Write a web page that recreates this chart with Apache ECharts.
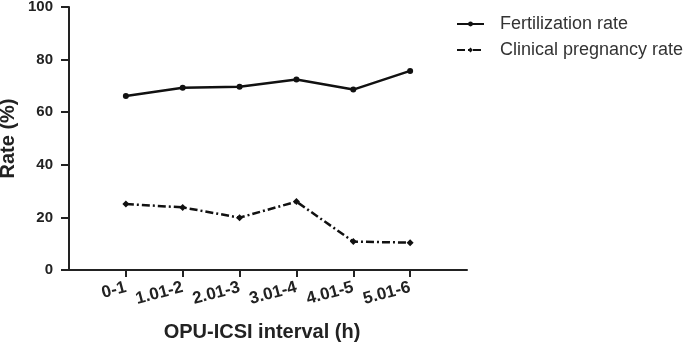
<!DOCTYPE html>
<html>
<head>
<meta charset="utf-8">
<style>
  html, body { margin: 0; padding: 0; background: #fff; }
  #chart { width: 685px; height: 345px; }
</style>
<script src="https://cdn.jsdelivr.net/npm/echarts@6/dist/echarts.min.js"></script>
</head>
<body>
<div id="chart"></div>
<script>
// OPU-ICSI interval groups
var categories = ['0-1', '1.01-2', '2.01-3', '3.01-4', '4.01-5', '5.01-6']
var fertilization = [66.2, 69.3, 69.7, 72.4, 68.6, 75.7]
var pregnancy = [25.1, 23.8, 19.9, 26.0, 10.8, 10.4]
var yTicks = [0, 20, 40, 60, 80, 100]

// empty slots at both ends so the axis runs past the first and last group
var xSlots = [''].concat(categories, [''])

var chart = echarts.init(document.getElementById('chart'))
var font = "'Liberation Sans', Arial, sans-serif"

chart.setOption({
  backgroundColor: '#fff',
  animation: false,
  grid: { left: 69, right: 218, top: 7, bottom: 75, outerBoundsMode: 'none' },
  legend: {
    orient: 'vertical',
    left: 456,
    top: 15,
    padding: 0,
    itemWidth: 27,
    itemHeight: 6,
    itemGap: 8,
    textStyle: { fontFamily: font, fontSize: 18, color: '#333', padding: [0, 0, 0, 11] },
    data: ['Fertilization rate', 'Clinical pregnancy rate']
  },
  xAxis: {
    type: 'category',
    data: xSlots,
    boundaryGap: false,
    name: 'OPU-ICSI interval (h)',
    nameLocation: 'middle',
    nameGap: 52,
    nameTextStyle: { fontFamily: font, fontSize: 20, fontWeight: 'bold', color: '#222', padding: [0, 12, 0, 0] },
    axisLine: { lineStyle: { color: '#222', width: 2 } },
    axisTick: {
      length: 7,
      lineStyle: { color: '#222', width: 2 },
      interval: function (index, value) { return value !== '' }
    },
    axisLabel: {
      interval: 0,
      rotate: 15,
      margin: 17,
      fontFamily: font,
      fontSize: 17,
      fontWeight: 'bold',
      color: '#222'
    },
    splitLine: { show: false }
  },
  yAxis: {
    type: 'value',
    min: 0,
    max: 100,
    interval: 20,
    name: 'Rate (%)',
    nameLocation: 'middle',
    nameGap: 51,
    nameMoveOverlap: false,
    nameTextStyle: { fontFamily: font, fontSize: 20, fontWeight: 'bold', color: '#222' },
    axisLine: { show: true, lineStyle: { color: '#222', width: 2 } },
    axisTick: { show: true, inside: false, length: 8, lineStyle: { color: '#222', width: 2 } },
    axisLabel: {
      margin: 16,
      fontFamily: font,
      fontSize: 15,
      fontWeight: 'bold',
      color: '#222',
      formatter: function (v) { return yTicks.indexOf(v) >= 0 ? String(v) : '' }
    },
    splitLine: { show: false }
  },
  series: [
    {
      name: 'Fertilization rate',
      type: 'line',
      data: fertilization.map(function (v, i) { return [categories[i], v] }),
      symbol: 'circle',
      symbolSize: 6,
      lineStyle: { color: '#111', width: 2.5 },
      itemStyle: { color: '#111' }
    },
    {
      name: 'Clinical pregnancy rate',
      type: 'line',
      data: pregnancy.map(function (v, i) { return [categories[i], v] }),
      symbol: 'diamond',
      symbolSize: 7,
      lineStyle: { color: '#111', width: 2.5, type: [8, 3, 2, 3] },
      itemStyle: { color: '#111' }
    }
  ]
})
</script>
</body>
</html>
